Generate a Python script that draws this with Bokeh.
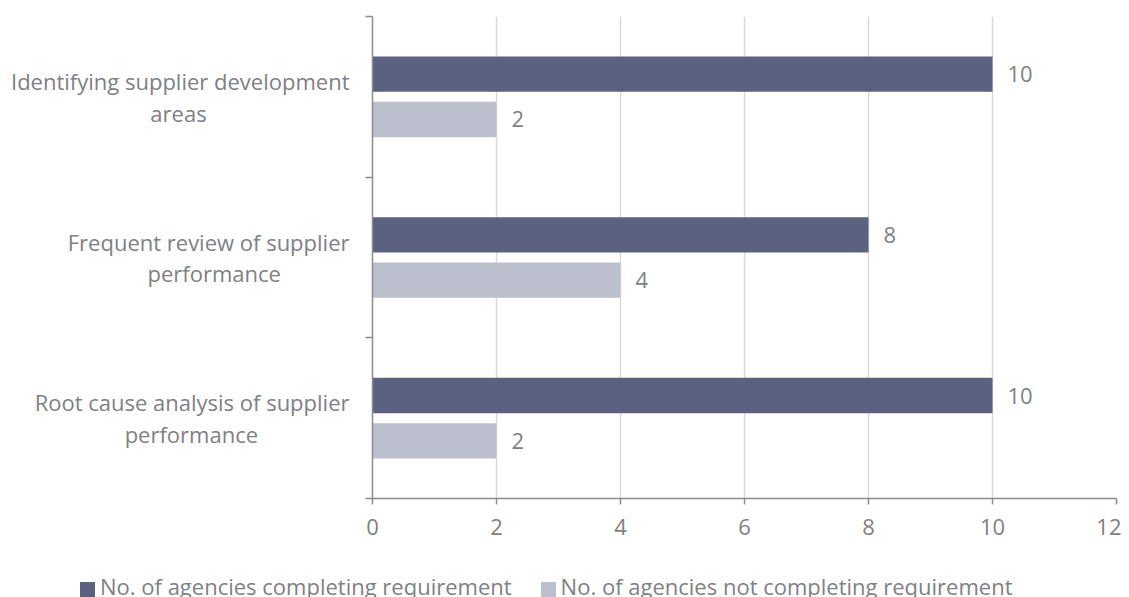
from bokeh.plotting import figure
from bokeh.models import FixedTicker, ColumnDataSource, Div
from bokeh.layouts import column
from bokeh.embed import file_html
from bokeh.resources import INLINE
from bokeh.core.properties import value

NB = "\u00a0"
categories = ["Root cause analysis of supplier",
              "Frequent review of supplier",
              "Identifying supplier development"]
categories_line2 = ["performance", "performance", "areas"]
line2_pad = [16, 12, 25]
completing = [10, 8, 10]
not_completing = [2, 4, 2]
series_names = ["No. of agencies completing requirement",
                "No. of agencies not completing requirement"]
x_ticks = [0, 2, 4, 6, 8, 10, 12]

DARK = "#5b6180"
LIGHT = "#bbbfce"
TXT = "#7f7f84"
AX = "#8c8c90"
FONT = "Open Sans"
FS = "22px"

pos = list(range(len(categories)))
off = 0.141
h = 0.22

p = figure(width=1121, height=555, output_backend="svg", toolbar_location=None,
           x_range=(0, 12), y_range=(-0.5, len(categories) - 0.5),
           min_border_left=372, min_border_right=5, min_border_top=16, min_border_bottom=57)
p.outline_line_color = None

src1 = ColumnDataSource(dict(y=[c + off for c in pos], x=completing, t=[str(v) for v in completing]))
src2 = ColumnDataSource(dict(y=[c - off for c in pos], x=not_completing, t=[str(v) for v in not_completing]))

r1 = p.hbar(y="y", right="x", left=0, height=h, source=src1, fill_color=DARK, line_color=None)
r2 = p.hbar(y="y", right="x", left=0, height=h, source=src2, fill_color=LIGHT, line_color=None)

for s in (src1, src2):
    p.text(x="x", y="y", text="t", source=s, x_offset=15, text_align="left", text_baseline="middle",
           text_font=value(FONT), text_font_size=FS, text_color=TXT)

# x axis
p.xaxis.ticker = FixedTicker(ticks=x_ticks)
p.xaxis.axis_line_color = AX
p.xaxis.axis_line_width = 1.5
p.xaxis.major_tick_line_color = AX
p.xaxis.major_tick_line_width = 1.5
p.xaxis.major_tick_out = 6
p.xaxis.major_tick_in = 0
p.xaxis.minor_tick_line_color = None
p.xaxis.major_label_text_font = FONT
p.xaxis.major_label_text_font_size = FS
p.xaxis.major_label_text_color = TXT
p.xaxis.major_label_standoff = 14

p.xgrid.ticker = FixedTicker(ticks=x_ticks)
p.xgrid.grid_line_color = "#d9d9d9"
p.xgrid.grid_line_width = 1.5
p.ygrid.grid_line_color = None

# y axis
bounds = [c - 0.5 for c in pos] + [len(categories) - 0.5]
p.yaxis.ticker = FixedTicker(ticks=pos, minor_ticks=bounds)
p.yaxis.major_label_overrides = {i: f"{a}\n{b}{NB * n}" for i, a, b, n in
                                 zip(pos, categories, categories_line2, line2_pad)}
p.yaxis.axis_line_color = AX
p.yaxis.axis_line_width = 1.5
p.yaxis.major_tick_line_color = None
p.yaxis.major_tick_out = 0
p.yaxis.major_tick_in = 0
p.yaxis.minor_tick_line_color = AX
p.yaxis.minor_tick_line_width = 1.5
p.yaxis.minor_tick_out = 7
p.yaxis.minor_tick_in = 0
p.yaxis.major_label_text_font = FONT
p.yaxis.major_label_text_font_size = FS
p.yaxis.major_label_text_color = TXT
p.yaxis.major_label_text_line_height = 1.05
p.yaxis.major_label_standoff = 16

# legend strip below the chart
def swatch(c):
    return (f'<span style="display:inline-block;width:15px;height:15px;background:{c};'
            f'margin-right:5px;vertical-align:-2px"></span>')

legend_html = (f'<div style="font-family:\'{FONT}\';font-size:{FS};color:{TXT};white-space:nowrap;'
               f'padding-left:75px;padding-top:12px;line-height:28px">'
               f'{swatch(DARK)}{series_names[0]}'
               f'<span style="display:inline-block;width:29px"></span>'
               f'{swatch(LIGHT)}{series_names[1]}</div>')
legend_div = Div(text=legend_html, width=1121, height=42)

open("out.html", "w").write(file_html(column(p, legend_div, spacing=0), INLINE))
